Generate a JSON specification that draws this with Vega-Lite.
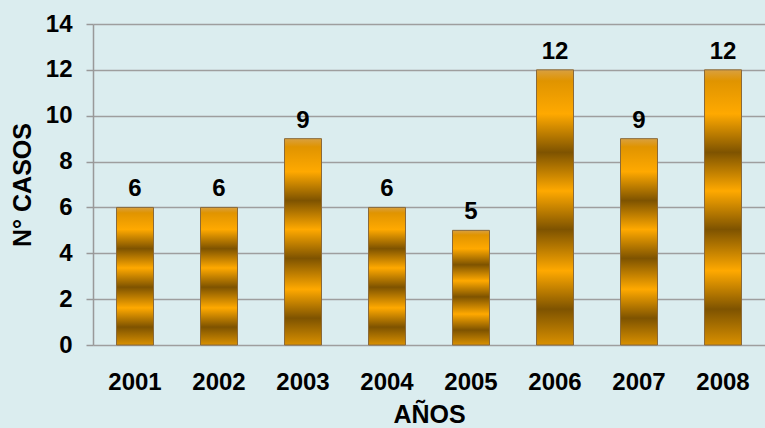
{
  "$schema": "https://vega.github.io/schema/vega-lite/v6.json",
  "width": 672,
  "height": 321,
  "autosize": {"type": "none"},
  "padding": {"left": 93, "top": 24, "right": 0, "bottom": 83},
  "background": "#DBEDEF",
  "config": {
    "view": {"stroke": null},
    "font": "Liberation Sans"
  },
  "data": {
    "values": [
      {"anio": "2001", "casos": 6},
      {"anio": "2002", "casos": 6},
      {"anio": "2003", "casos": 9},
      {"anio": "2004", "casos": 6},
      {"anio": "2005", "casos": 5},
      {"anio": "2006", "casos": 12},
      {"anio": "2007", "casos": 9},
      {"anio": "2008", "casos": 12}
    ]
  },
  "encoding": {
    "x": {
      "field": "anio",
      "type": "nominal",
      "sort": null,
      "scale": {"paddingInner": 0, "paddingOuter": 0},
      "axis": {
        "title": "AÑOS",
        "labelAngle": 0,
        "labelFont": "Liberation Sans",
        "labelFontSize": 24,
        "labelFontWeight": "bold",
        "labelColor": "#000000",
        "labelPadding": 25,
        "ticks": false,
        "domain": false,
        "titleFont": "Liberation Sans",
        "titleFontSize": 25,
        "titleFontWeight": "bold",
        "titleColor": "#000000",
        "titlePadding": 8
      }
    },
    "y": {
      "field": "casos",
      "type": "quantitative",
      "scale": {"domain": [0, 14], "nice": false},
      "axis": {
        "title": "N° CASOS",
        "values": [0, 2, 4, 6, 8, 10, 12, 14],
        "labelFont": "Liberation Sans",
        "labelFontSize": 24,
        "labelFontWeight": "bold",
        "labelColor": "#000000",
        "labelPadding": 14,
        "tickSize": 7,
        "tickColor": "#999999",
        "tickWidth": 1.5,
        "domainColor": "#999999",
        "domainWidth": 1.5,
        "gridColor": "#9E9E9E",
        "gridWidth": 1.5,
        "titleFont": "Liberation Sans",
        "titleFontSize": 25,
        "titleFontWeight": "bold",
        "titleColor": "#000000",
        "titlePadding": 10
      }
    }
  },
  "layer": [
    {
      "mark": {
        "type": "bar",
        "size": 37,
        "stroke": "#8A6A3A",
        "strokeWidth": 1,
        "fill": {
          "gradient": "linear",
          "x1": 0, "y1": 0, "x2": 0, "y2": 1,
          "stops": [
            {"offset": 0, "color": "#D9A040"},
            {"offset": 0.04, "color": "#E09400"},
            {"offset": 0.16, "color": "#FFA900"},
            {"offset": 0.30, "color": "#7E5300"},
            {"offset": 0.44, "color": "#FFA900"},
            {"offset": 0.58, "color": "#7E5300"},
            {"offset": 0.73, "color": "#FFA900"},
            {"offset": 0.87, "color": "#7E5300"},
            {"offset": 1, "color": "#D99000"}
          ]
        }
      }
    },
    {
      "mark": {
        "type": "text",
        "baseline": "alphabetic",
        "dy": -11,
        "font": "Liberation Sans",
        "fontSize": 24,
        "fontWeight": "bold",
        "color": "#000000"
      },
      "encoding": {
        "text": {"field": "casos", "type": "quantitative"}
      }
    }
  ]
}
